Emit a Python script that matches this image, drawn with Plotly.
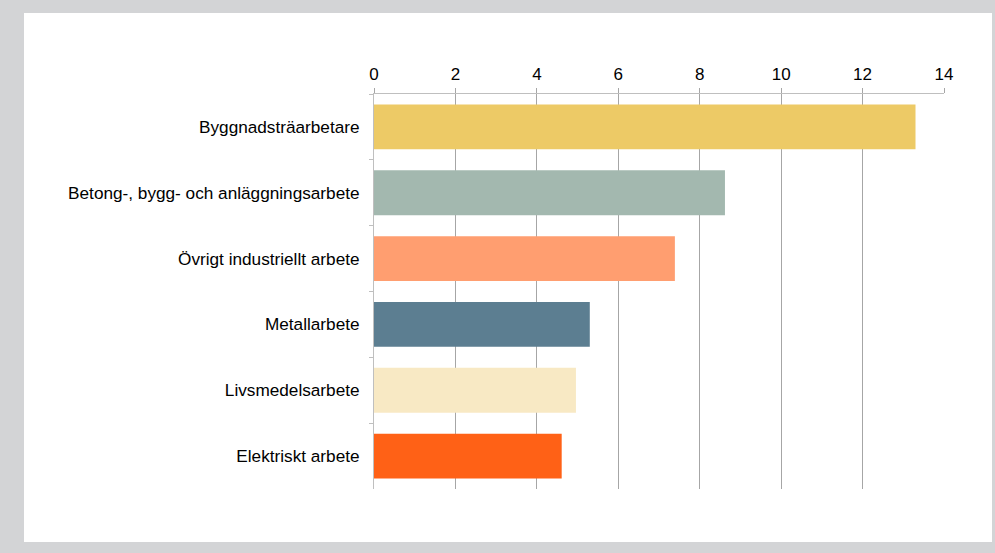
import plotly.graph_objects as go

categories = [
    "Byggnadsträarbetare",
    "Betong-, bygg- och anläggningsarbete",
    "Övrigt industriellt arbete",
    "Metallarbete",
    "Livsmedelsarbete",
    "Elektriskt arbete",
]
values = [13.3, 8.62, 7.39, 5.3, 4.96, 4.61]
bar_colors = ["#EDCA66", "#A3B8AF", "#FF9E70", "#5C7E91", "#F8E9C4", "#FF6116"]
x_ticks = [0, 2, 4, 6, 8, 10, 12, 14]

W, H = 995, 553
L, R, T, B = 374, 51, 94, 64
pw, ph = W - L - R, H - T - B

def px_to_paper_x(px):
    return (px - L) / pw

def px_to_paper_y(py):
    return (H - B - py) / ph

fig = go.Figure(go.Bar(
    x=values,
    y=categories,
    orientation="h",
    marker=dict(color=bar_colors, line=dict(width=0)),
    width=0.68,
    hoverinfo="x+y",
))

fig.add_shape(
    type="rect", xref="paper", yref="paper", layer="below",
    x0=px_to_paper_x(24), x1=px_to_paper_x(992),
    y0=px_to_paper_y(542), y1=px_to_paper_y(13),
    fillcolor="white", line=dict(width=0),
)

font_family = "Liberation Sans, Arial, sans-serif"

fig.update_layout(
    width=W, height=H,
    margin=dict(l=L, r=R, t=T, b=B, pad=0),
    paper_bgcolor="#D3D4D6",
    plot_bgcolor="rgba(0,0,0,0)",
    showlegend=False,
    font=dict(family=font_family, size=17, color="#000000"),
    xaxis=dict(
        side="top",
        range=[0, 14],
        tickvals=x_ticks,
        ticktext=[str(v) for v in x_ticks],
        showgrid=True, gridcolor="#A6A6A6", gridwidth=1,
        showline=True, linecolor="#BFBFBF", linewidth=1,
        ticks="outside", ticklen=5, tickcolor="#A6A6A6",
        zeroline=False,
        tickfont=dict(size=17),
        ticklabelstandoff=1,
    ),
    yaxis=dict(
        categoryorder="array",
        categoryarray=categories,
        autorange="reversed",
        showgrid=False,
        showline=True, linecolor="#BFBFBF", linewidth=1,
        ticks="outside", ticklen=4, tickcolor="#BFBFBF",
        tickson="boundaries",
        tickfont=dict(size=17.2),
        ticklabelstandoff=10,
    ),
)

fig.write_html(
    "out.html",
    config={"displayModeBar": False},
    post_script="document.body.style.margin='0';document.body.style.overflow='hidden';",
)
